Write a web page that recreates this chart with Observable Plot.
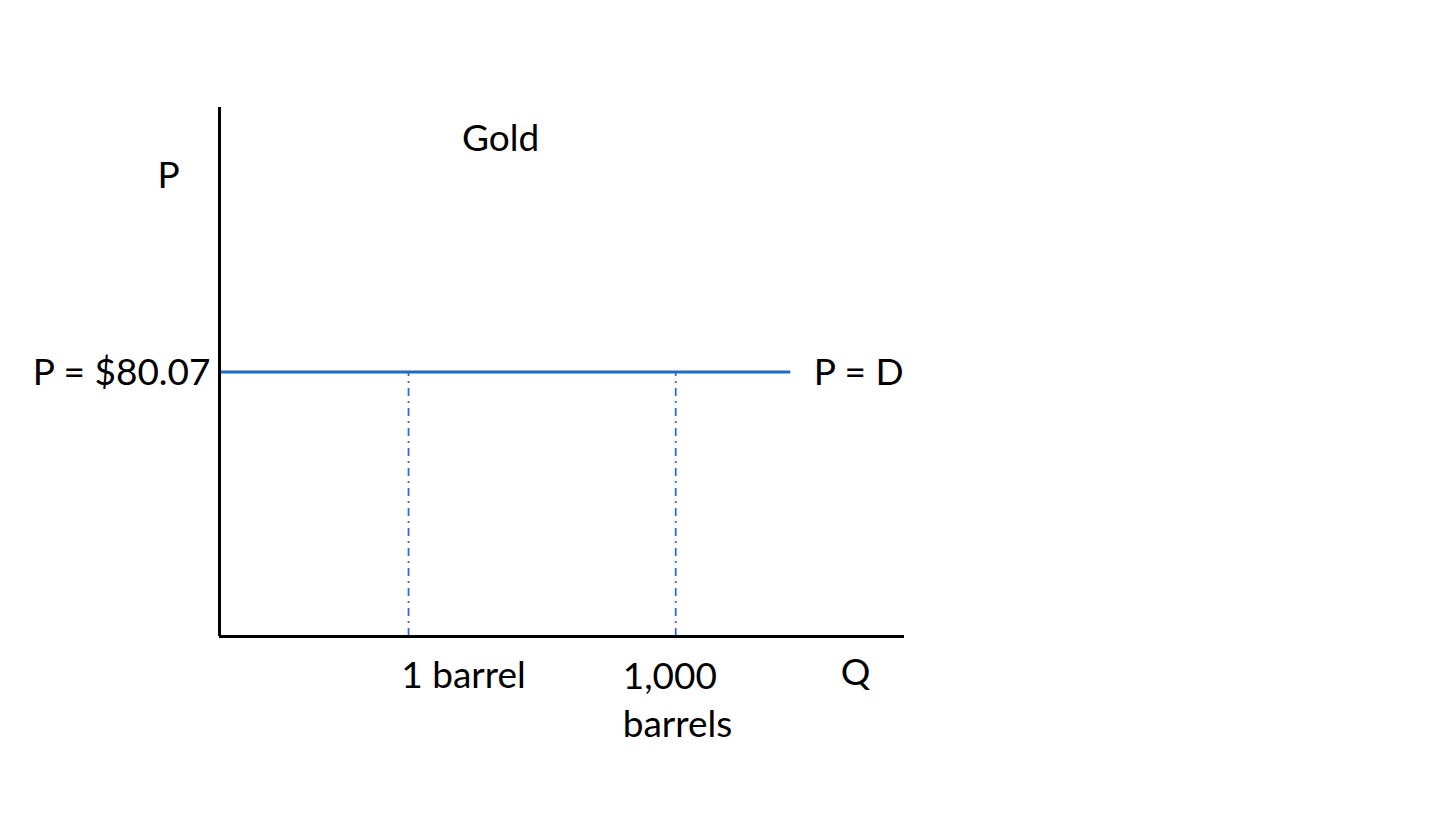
<!DOCTYPE html>
<html>
<head>
<meta charset="utf-8">
<script src="https://cdn.jsdelivr.net/npm/d3@7"></script>
<script src="https://cdn.jsdelivr.net/npm/@observablehq/plot@0.6"></script>
<style>
  html, body { margin: 0; padding: 0; background: #ffffff; overflow: hidden; }
  #chart svg { display: block; }
</style>
</head>
<body>
<div id="chart"></div>
<script>
// ---- data ----
const title = "Gold";
const yLabel = "P";
const xLabel = "Q";
const price = 80.07;
const priceLabel = "P = $80.07";
const demandLabel = "P = D";
const quantities = [27.6, 66.6];             // conceptual positions along Q
const quantityLabels = ["1 barrel", "1,000\nbarrels"];
const qMax = 83.4;                            // end of the demand line
const qDomain = [0, 100];
const pDomain = [0, 160.14];

const font = "Lato, 'Open Sans', sans-serif";
const fs = 37;

const tickData = quantities.map((q, i) => ({q, label: quantityLabels[i]}));

const chart = Plot.plot({
  width: 1456,
  height: 819,
  marginLeft: 219,
  marginRight: 552,
  marginTop: 107,
  marginBottom: 183,
  x: {domain: qDomain, axis: null},
  y: {domain: pDomain, axis: null},
  style: {fontFamily: font, background: "#ffffff", color: "#000"},
  marks: [
    // dash-dot guides
    Plot.ruleX(quantities, {y1: 0, y2: price, stroke: "#3366d9", strokeWidth: 1.8, strokeDasharray: "8,5,2,5"}),
    // demand / price line
    Plot.ruleY([price], {x1: 0, x2: qMax, stroke: "#1f6bc4", strokeWidth: 3}),
    // axes
    Plot.ruleX([0], {y1: 0, y2: pDomain[1], stroke: "#000", strokeWidth: 3}),
    Plot.ruleY([0], {x1: 0, x2: qDomain[1], stroke: "#000", strokeWidth: 3}),
    // labels
    Plot.text([priceLabel], {x: 0, y: price, text: d => d, textAnchor: "end", lineAnchor: "middle", dx: -9, dy: 1, fontSize: fs, fill: "#000"}),
    Plot.text([demandLabel], {x: qMax, y: price, text: d => d, textAnchor: "start", lineAnchor: "middle", dx: 23, dy: 1, fontSize: fs, fill: "#000"}),
    Plot.text([tickData[0]], {x: "q", y: 0, text: "label", textAnchor: "middle", lineAnchor: "middle", dx: 55, dy: 40, fontSize: fs, fill: "#000"}),
    Plot.text([tickData[1]], {x: "q", y: 0, text: "label", textAnchor: "start", lineAnchor: "middle", dx: -53, dy: 61, lineHeight: 48 / fs, fontSize: fs, fill: "#000"}),
    Plot.text([title], {frameAnchor: "top", text: d => d, lineAnchor: "middle", dx: 500 - 561.5, dy: 32, fontSize: fs, fill: "#000"}),
    Plot.text([yLabel], {frameAnchor: "top-left", text: d => d, textAnchor: "middle", lineAnchor: "middle", dx: -51, dy: 69, fontSize: fs, fill: "#000"}),
    Plot.text([xLabel], {frameAnchor: "bottom-right", text: d => d, textAnchor: "middle", lineAnchor: "middle", dx: -49, dy: 37, fontSize: fs, fill: "#000"})
  ]
});
document.getElementById("chart").appendChild(chart);
</script>
</body>
</html>
